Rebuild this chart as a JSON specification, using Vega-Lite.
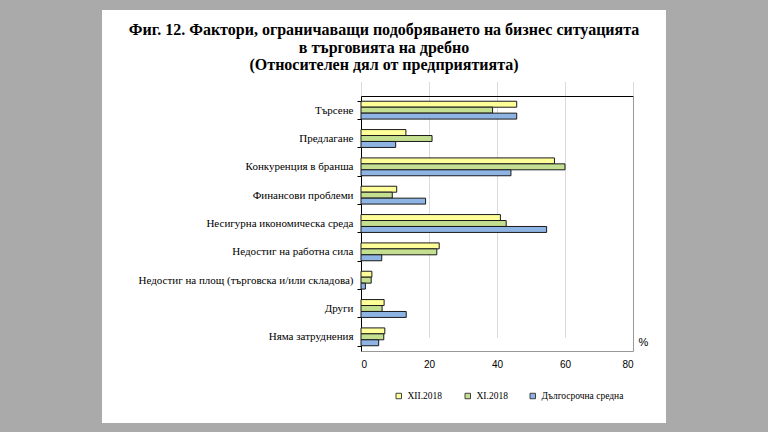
{
  "$schema": "https://vega.github.io/schema/vega-lite/v6.json",
  "width": 564,
  "height": 413,
  "autosize": "none",
  "padding": {"left": 102, "top": 10, "right": 102, "bottom": 9},
  "background": "#aaaaaa",
  "title": {
    "text": ["Фиг. 12. Фактори, ограничаващи подобряването на бизнес ситуацията", "в търговията на дребно", "(Относителен дял от предприятията)"],
    "anchor": "middle",
    "frame": "group",
    "font": "Liberation Serif",
    "fontSize": 16,
    "fontWeight": "bold",
    "color": "#000000",
    "lineHeight": 17.5,
    "offset": -69
  },
  "data": {
    "values": [
      {"cat": "Търсене", "series": "XII.2018", "value": 45.8},
      {"cat": "Търсене", "series": "XI.2018", "value": 38.7},
      {"cat": "Търсене", "series": "Дългосрочна средна", "value": 45.8},
      {"cat": "Предлагане", "series": "XII.2018", "value": 13.2},
      {"cat": "Предлагане", "series": "XI.2018", "value": 20.9},
      {"cat": "Предлагане", "series": "Дългосрочна средна", "value": 10.2},
      {"cat": "Конкуренция в бранша", "series": "XII.2018", "value": 56.9},
      {"cat": "Конкуренция в бранша", "series": "XI.2018", "value": 60.0},
      {"cat": "Конкуренция в бранша", "series": "Дългосрочна средна", "value": 44.1},
      {"cat": "Финансови проблеми", "series": "XII.2018", "value": 10.5},
      {"cat": "Финансови проблеми", "series": "XI.2018", "value": 9.2},
      {"cat": "Финансови проблеми", "series": "Дългосрочна средна", "value": 19.0},
      {"cat": "Несигурна икономическа среда", "series": "XII.2018", "value": 41.0},
      {"cat": "Несигурна икономическа среда", "series": "XI.2018", "value": 42.7},
      {"cat": "Несигурна икономическа среда", "series": "Дългосрочна средна", "value": 54.6},
      {"cat": "Недостиг на работна сила", "series": "XII.2018", "value": 23.0},
      {"cat": "Недостиг на работна сила", "series": "XI.2018", "value": 22.3},
      {"cat": "Недостиг на работна сила", "series": "Дългосрочна средна", "value": 6.1},
      {"cat": "Недостиг на площ (търговска и/или складова)", "series": "XII.2018", "value": 3.2},
      {"cat": "Недостиг на площ (търговска и/или складова)", "series": "XI.2018", "value": 3.0},
      {"cat": "Недостиг на площ (търговска и/или складова)", "series": "Дългосрочна средна", "value": 1.3},
      {"cat": "Други", "series": "XII.2018", "value": 6.8},
      {"cat": "Други", "series": "XI.2018", "value": 6.2},
      {"cat": "Други", "series": "Дългосрочна средна", "value": 13.3},
      {"cat": "Няма затруднения", "series": "XII.2018", "value": 7.0},
      {"cat": "Няма затруднения", "series": "XI.2018", "value": 6.7},
      {"cat": "Няма затруднения", "series": "Дългосрочна средна", "value": 5.2}
    ]
  },
  "layer": [
    {
      "mark": {"type": "bar", "stroke": "#1a1a1a", "strokeWidth": 1},
      "encoding": {
        "y": {
          "field": "cat",
          "type": "nominal",
          "sort": null,
          "scale": {"range": [86, 341], "paddingInner": 0.37, "paddingOuter": 0.185},
          "axis": {
            "orient": "left",
            "offset": -259,
            "title": null,
            "domainColor": "#000000",
            "tickColor": "#000000",
            "tickSize": 4,
            "tickBand": "extent",
            "labelFont": "Liberation Serif",
            "labelFontSize": 11,
            "labelColor": "#000000",
            "labelPadding": 4,
            "labelLimit": 0
          }
        },
        "yOffset": {
          "field": "series",
          "type": "nominal",
          "sort": ["XII.2018", "XI.2018", "Дългосрочна средна"],
          "scale": {"paddingInner": 0, "paddingOuter": 0}
        },
        "x": {
          "field": "value",
          "type": "quantitative",
          "scale": {"domain": [0, 80], "range": [259, 531], "nice": false},
          "axis": {
            "orient": "bottom",
            "offset": -72,
            "values": [0, 20, 40, 60, 80],
            "title": "%",
            "titleFont": "Liberation Sans",
            "titleFontSize": 11,
            "titleFontWeight": "normal",
            "titleColor": "#000000",
            "titleX": 536,
            "titleY": -9,
            "titleAlign": "left",
            "titleBaseline": "middle",
            "titleAngle": 0,
            "domain": true,
            "domainColor": "#999999",
            "domainWidth": 1,
            "ticks": false,
            "grid": true,
            "gridColor": "#b4b4b4",
            "gridDash": [1, 1],
            "labelFont": "Liberation Sans",
            "labelFontSize": 10,
            "labelColor": "#000000",
            "labelPadding": 8
          }
        },
        "color": {
          "field": "series",
          "type": "nominal",
          "sort": ["XII.2018", "XI.2018", "Дългосрочна средна"],
          "scale": {"domain": ["XII.2018", "XI.2018", "Дългосрочна средна"], "range": ["#ffff99", "#c4df8f", "#8eb4e3"]},
          "legend": {
            "orient": "none",
            "legendX": 292,
            "legendY": 381,
            "direction": "horizontal",
            "title": null,
            "symbolType": "square",
            "symbolSize": 30,
            "symbolStrokeColor": "#404040",
            "symbolStrokeWidth": 1,
            "labelFont": "Liberation Serif",
            "labelFontSize": 9.5,
            "labelColor": "#000000",
            "labelOffset": 4,
            "columnPadding": 20,
            "padding": 0
          }
        }
      }
    },
    {
      "mark": {"type": "bar", "opacity": 0},
      "encoding": {
        "y": {
          "field": "cat",
          "type": "nominal",
          "sort": null,
          "axis": {"orient": "right", "offset": -33, "title": null, "labels": false, "ticks": false, "domain": true, "domainColor": "#999999", "domainWidth": 1}
        },
        "x": {
          "field": "value",
          "type": "quantitative",
          "axis": {"orient": "top", "offset": -86, "title": null, "labels": false, "ticks": false, "grid": false, "domainColor": "#000000"}
        }
      }
    }
  ],
  "resolve": {"axis": {"x": "independent", "y": "independent"}},
  "config": {
    "view": {"fill": "#ffffff", "stroke": null}
  }
}
